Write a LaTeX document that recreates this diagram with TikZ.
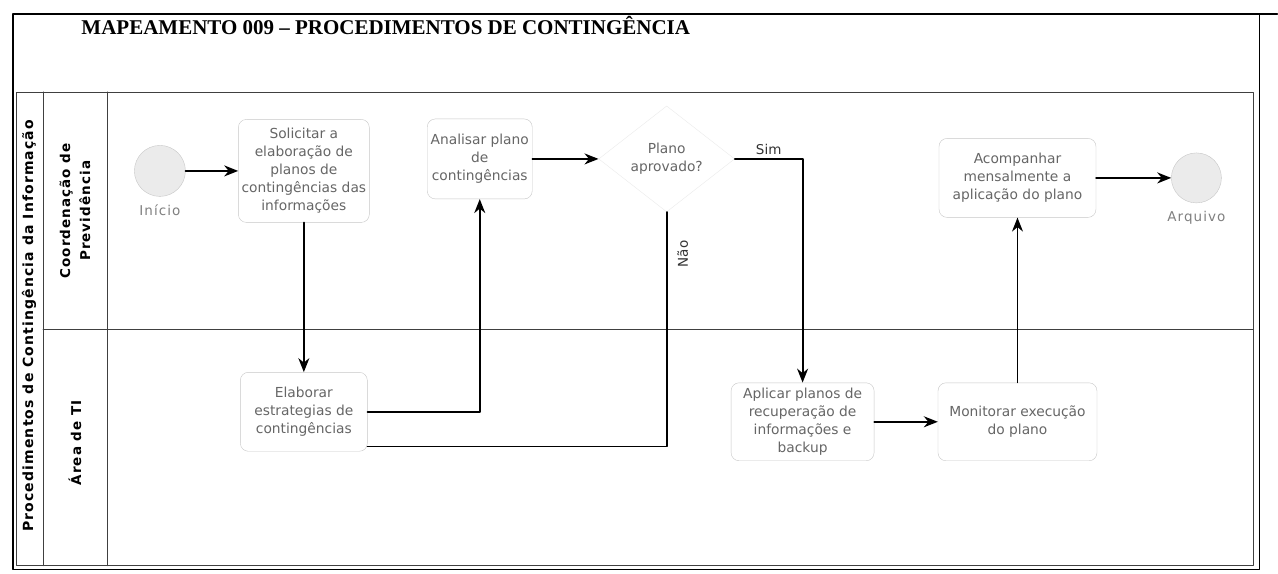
\documentclass[tikz,border=0pt]{standalone}
\usepackage{fontspec}
\setmainfont{DejaVu Sans}
\newfontfamily\titlefont{Liberation Serif}
\newfontfamily\lanefont[LetterSpace=8]{DejaVu Sans}
\usepackage{tikz}
\usetikzlibrary{arrows.meta}
\usetikzlibrary{shapes.geometric}

\begin{document}
\begin{tikzpicture}[line cap=round,line join=round,>={Stealth[length=14pt,width=11pt,inset=4.5pt]},x=1pt,y=-1pt,
    task/.style={rectangle, rounded corners=8pt, draw=black!22, fill=white, text=black!60, align=center, inner sep=0pt, font=\fontsize{13.8}{18}\selectfont},
    event/.style={circle, draw=black!22, fill=black!8, inner sep=0pt, minimum size=51pt},
    gate/.style={diamond, draw=black!8, fill=white, text=black!60, align=center, inner sep=0pt, aspect=1.28, minimum width=136pt, minimum height=106pt, font=\fontsize{13.8}{18}\selectfont},
    lane/.style={rotate=90, align=center, font=\lanefont\bfseries\fontsize{13.5}{20}\selectfont},
    flow/.style={->, line width=1.8pt},
    evlabel/.style={text=black!50, font=\lanefont\fontsize{13.5}{15}\selectfont},
    edgetext/.style={text=black!80, font=\fontsize{13.5}{15}\selectfont}]

                    \fill[white] (0,0) rectangle (1278,574);

                    \draw [line width=1.3pt] (13,14) rectangle (1260,570);
                    \draw [line width=1.3pt] (1260,14) -- (1278,14);
                    \node[font=\titlefont\bfseries\fontsize{21}{23}\selectfont, anchor=base west] (titulo) at (78,35) {MAPEAMENTO 009 – PROCEDIMENTOS DE CONTINGÊNCIA};

                    \draw [line width=0.9pt, black!75] (16,92) rectangle (1254,566);
                    \draw [line width=0.9pt, black!75] (43,92) -- (43,566);
                    \draw [line width=0.9pt, black!75] (108,92) -- (108,566);
                    \draw [line width=0.9pt, black!75] (43,330) -- (1254,330);

                    \node[lane, font=\lanefont\bfseries\fontsize{14}{20}\selectfont] (pool) at (29,326) {Procedimentos de Contingência da Informação};
                    \node[lane] (coord) at (75,211) {Coordenação de\\Previdência};
                    \node[lane] (ti) at (75,443) {Área de TI};

                    \node[event, label={[evlabel, label distance=5pt]below:Início}] (inicio) at (160,171) {};
                    \node[task, minimum width=131pt, minimum height=103pt] (solicitar) at (304,171) {Solicitar a\\elaboração de\\planos de\\contingências das\\informações};
                    \node[task, minimum width=105pt, minimum height=80pt] (analisar) at (480,159) {Analisar plano\\de\\contingências};
                    \node[gate] (decisao) at (667,159) {Plano\\aprovado?};
                    \node[task, minimum width=127pt, minimum height=79pt] (elaborar) at (304,412) {Elaborar\\estrategias de\\contingências};
                    \node[task, minimum width=143pt, minimum height=78pt] (aplicar) at (803,422) {Aplicar planos de\\recuperação de\\informações e\\backup};
                    \node[task, minimum width=159pt, minimum height=78pt] (monitorar) at (1018,422) {Monitorar execução\\do plano};
                    \node[task, minimum width=157pt, minimum height=79pt] (acompanhar) at (1018,178) {Acompanhar\\mensalmente a\\aplicação do plano};
                    \node[event, minimum size=50pt, label={[evlabel, label distance=5pt]below:Arquivo}] (arquivo) at (1197,178) {};

                    \draw [flow] (inicio) -- (solicitar);
                    \draw [flow] (solicitar) -- (elaborar);
                    \draw [flow] (elaborar) -| (analisar);
                    \draw [flow] (analisar) -- (decisao);
                    \draw [flow] (decisao) -| node[pos=0.25, above, edgetext] (sim) {Sim} (aplicar);
                    \draw [line width=1.8pt] (decisao) |- ([yshift=5pt]elaborar.south east);
                    \node[rotate=90, edgetext] (nao) at (683,254) {Não};
                    \draw [flow] (aplicar) -- (monitorar);
                    \draw [flow, line width=1.2pt] (monitorar) -- (acompanhar);
                    \draw [flow] (acompanhar) -- (arquivo);
                \end{tikzpicture}
\end{document}
